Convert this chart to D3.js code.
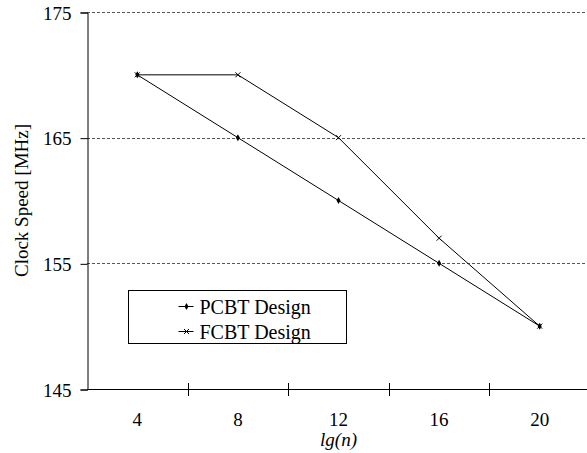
<!DOCTYPE html>
<html>
<head>
<meta charset="utf-8">
<script src="https://cdn.jsdelivr.net/npm/d3@7"></script>
<style>
body { margin: 0; background: #fff; }
text { font-family: "Liberation Serif", "Times New Roman", serif; fill: #000; }
</style>
</head>
<body>
<div id="vis"></div>
<script>
var categories = ["4", "8", "12", "16", "20"];
var pcbt = [170, 165, 160, 155, 150];
var fcbt = [170, 170, 165, 157, 150];
var yTicks = [145, 155, 165, 175];
var seriesNames = ["PCBT Design", "FCBT Design"];

var width = 587, height = 453;
var mLeft = 87, mRight = 590, mTop = 12, mBottom = 389;

var svg = d3.select("#vis").append("svg")
    .attr("width", width)
    .attr("height", height);

var x = d3.scaleBand().domain(categories).range([mLeft, mRight]);
var y = d3.scaleLinear().domain([145, 175]).range([mBottom, mTop]);

// grid lines
svg.selectAll(".grid")
    .data(yTicks.filter(function (d) { return d > 145; }))
    .enter().append("line")
    .attr("x1", mLeft).attr("x2", width)
    .attr("y1", function (d) { return Math.round(y(d)) + 0.5; })
    .attr("y2", function (d) { return Math.round(y(d)) + 0.5; })
    .attr("stroke", "#555")
    .attr("stroke-width", 1)
    .attr("stroke-dasharray", "3,2");

// y axis
var yAxis = d3.axisLeft(y).tickValues(yTicks).tickSize(7).tickPadding(9).tickFormat(d3.format("d"));
var gy = svg.append("g").attr("transform", "translate(" + (mLeft + 0.5) + ",0.5)").call(yAxis);
gy.attr("font-family", null);
gy.select(".domain").attr("stroke", "#000");
gy.selectAll("text").style("font-size", "19px").attr("dy", "0.35em");

// x axis: ticks at band boundaries
var xAxis = d3.axisBottom(x).tickSize(0).tickPadding(0);
var gx = svg.append("g").attr("transform", "translate(0," + (mBottom + 0.5) + ")").call(xAxis);
gx.attr("font-family", null);
gx.select(".domain").attr("d", "M" + mLeft + ",0H" + width).attr("stroke", "#000");
gx.selectAll("text").style("font-size", "19px").attr("y", 30).attr("dy", "0.35em");
svg.selectAll(".xtick")
    .data(categories)
    .enter().append("line")
    .attr("x1", function (d) { return Math.round(x(d) + x.bandwidth()) + 0.5; })
    .attr("x2", function (d) { return Math.round(x(d) + x.bandwidth()) + 0.5; })
    .attr("y1", mBottom - 6).attr("y2", mBottom + 7)
    .attr("stroke", "#000");

// labels
svg.append("text")
    .attr("transform", "translate(28," + ((mTop + mBottom) / 2) + ") rotate(-90)")
    .attr("text-anchor", "middle")
    .style("font-size", "19px")
    .text("Clock Speed [MHz]");

svg.append("text")
    .attr("x", x("12") + x.bandwidth() / 2)
    .attr("y", 446)
    .attr("text-anchor", "middle")
    .style("font-size", "19px")
    .style("font-style", "italic")
    .text("lg(n)");

var cx = function (d, i) { return x(categories[i]) + x.bandwidth() / 2; };

var line = d3.line()
    .x(cx)
    .y(function (d) { return y(d); });

[pcbt, fcbt].forEach(function (s) {
    svg.append("path")
        .datum(s)
        .attr("d", line)
        .attr("fill", "none")
        .attr("stroke", "#000")
        .attr("stroke-width", 1);
});

// markers
svg.selectAll(".pdot")
    .data(pcbt)
    .enter().append("path")
    .attr("d", d3.symbol().type(d3.symbolDiamond).size(14))
    .attr("transform", function (d, i) { return "translate(" + cx(d, i) + "," + y(d) + ")"; })
    .attr("fill", "#000");

svg.selectAll(".fx")
    .data(fcbt)
    .enter().append("path")
    .attr("d", d3.symbol().type(d3.symbolX).size(18))
    .attr("transform", function (d, i) { return "translate(" + cx(d, i) + "," + y(d) + ")"; })
    .attr("fill", "none")
    .attr("stroke", "#000")
    .attr("stroke-width", 1);

// legend
var lg = svg.append("g").attr("transform", "translate(128.5,290.5)");
lg.append("rect")
    .attr("width", 218).attr("height", 53)
    .attr("fill", "#fff").attr("stroke", "#000");

seriesNames.forEach(function (name, i) {
    var ly = 16 + i * 25;
    lg.append("line")
        .attr("x1", 50).attr("x2", 65)
        .attr("y1", ly).attr("y2", ly)
        .attr("stroke", "#000");
    lg.append("path")
        .attr("d", d3.symbol().type(i === 0 ? d3.symbolDiamond : d3.symbolX).size(i === 0 ? 14 : 18))
        .attr("transform", "translate(58," + ly + ")")
        .attr("fill", i === 0 ? "#000" : "none")
        .attr("stroke", i === 0 ? "none" : "#000");
    lg.append("text")
        .attr("x", 71).attr("y", ly)
        .attr("dy", "0.35em")
        .style("font-size", "20px")
        .text(name);
});
</script>
</body>
</html>
